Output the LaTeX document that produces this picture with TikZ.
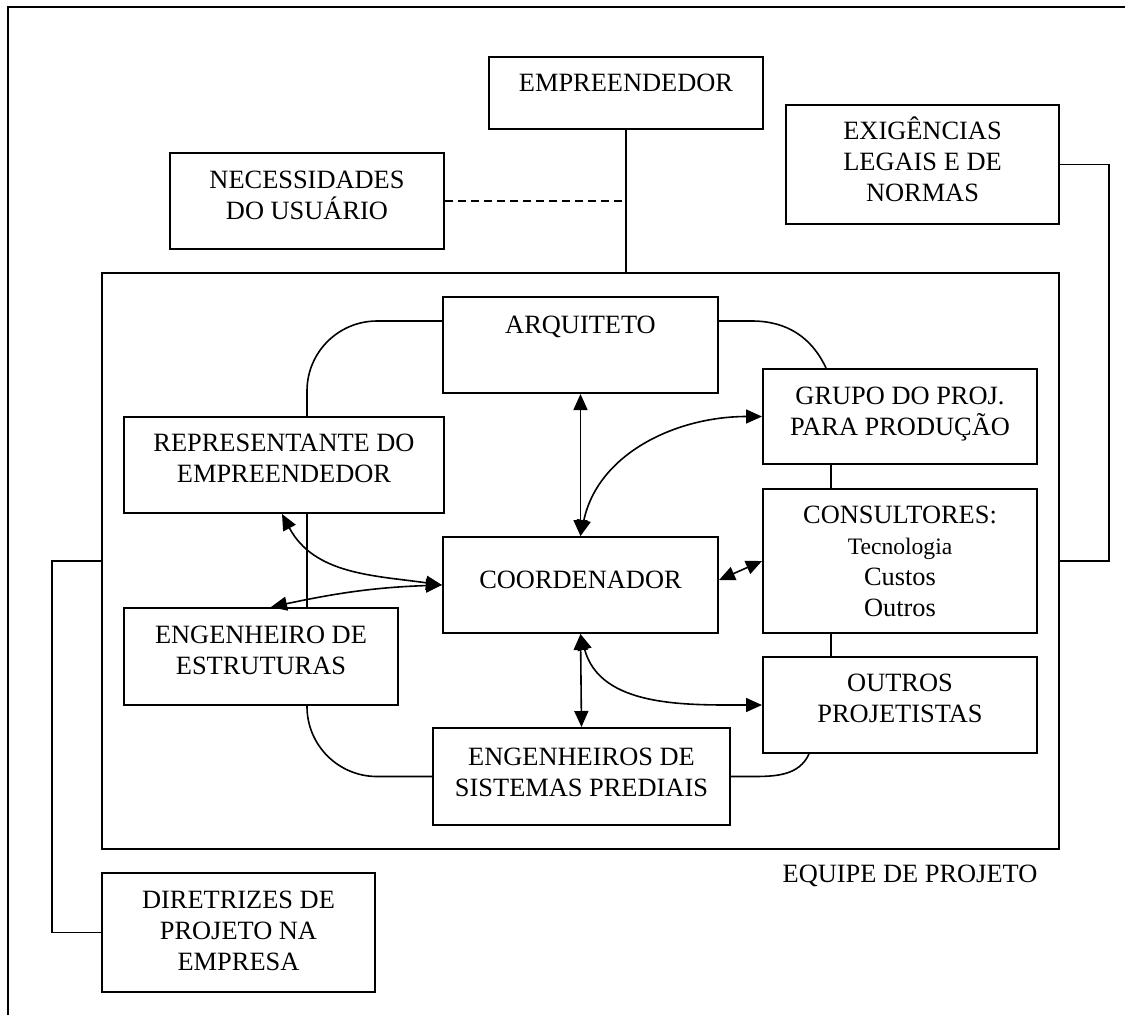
\documentclass[tikz,border=0pt]{standalone}
\usepackage{fontspec}
\setmainfont{Liberation Serif}
\usetikzlibrary{arrows.meta}
\newcommand{\bloco}[4]{\parbox[c][#2][t]{#1}{\centering\rule{0pt}{#3}#4\par}}

\begin{document}
\begin{tikzpicture}[x=0.5pt,y=0.5pt,
   caixa/.style={draw,line width=1pt,inner sep=0pt,anchor=north west,
      font=\fontsize{13.2}{15.5}\selectfont},
   liga/.style={line width=0.8pt},
   >={Triangle[length=8pt,width=7pt]}]
   \useasboundingbox (0,0) rectangle (1125,-1014);
   \draw[line width=0.8pt] (8,-7) rectangle (1200,-1100);

   \node[caixa] (emp) at (488,-56) {\bloco{137pt}{36pt}{17pt}{EMPREENDEDOR}};
   \node[caixa] (nec) at (169,-152) {\bloco{137pt}{48pt}{17.5pt}{NECESSIDADES\\DO USUÁRIO}};
   \node[caixa] (exi) at (785,-104) {\bloco{136.5pt}{59.5pt}{17pt}{EXIGÊNCIAS\\LEGAIS E DE\\NORMAS}};
   \node[caixa,minimum width=478.5pt,minimum height=288pt] (equipe) at (101,-272) {};
   \node[caixa] (arq) at (442,-296) {\bloco{137.5pt}{48pt}{18pt}{ARQUITETO}};
   \node[caixa] (grp) at (762,-368) {\bloco{137pt}{47.5pt}{17.5pt}{GRUPO DO PROJ.\\PARA PRODUÇÃO}};
   \node[caixa] (rep) at (123,-416) {\bloco{160pt}{48pt}{17pt}{REPRESENTANTE DO\\EMPREENDEDOR}};
   \node[caixa] (cons) at (762,-488) {\bloco{137pt}{72pt}{17pt}{CONSULTORES:\\{\fontsize{11.8}{13}\selectfont Tecnologia}\\Custos\\Outros}};
   \node[caixa] (coo) at (442,-536) {\bloco{137.5pt}{48pt}{25.5pt}{COORDENADOR}};
   \node[caixa] (est) at (123,-607) {\bloco{137pt}{48.5pt}{17.5pt}{ENGENHEIRO DE\\ESTRUTURAS}};
   \node[caixa] (out) at (762,-656) {\bloco{137pt}{48pt}{17pt}{OUTROS\\PROJETISTAS}};
   \node[caixa] (sis) at (432,-727) {\bloco{148.5pt}{48.5pt}{18.5pt}{ENGENHEIROS DE\\SISTEMAS PREDIAIS}};
   \node[caixa] (dir) at (101,-872) {\bloco{136.5pt}{59.5pt}{17.5pt}{DIRETRIZES DE\\PROJETO NA\\EMPRESA}};
   \node[font=\fontsize{13.2}{15.5}\selectfont,anchor=base] (rotulo) at (910,-882) {EQUIPE DE PROJETO};

   \draw[liga] (emp.south) -- (emp.south |- equipe.north);
   \coordinate (juncao) at (emp.south |- nec.east);
   \draw[liga,dash pattern=on 4pt off 2.5pt] (nec.east) -- (juncao);
   \draw[liga] (exi.east) -- ++(49,0) |- (equipe.east);
   \draw[liga] (equipe.west) -- ++(-49,0) |- (dir.west);

   \draw[liga,rounded corners=35pt] ([yshift=12pt]arq.west) -| ([xshift=11.5pt]rep.north);
   \draw[liga] ([xshift=11.5pt]rep.south) -- ([xshift=23pt]est.north);
   \draw[liga,rounded corners=35pt] ([xshift=23pt]est.south) |- (sis.west);
   \draw[liga] ([yshift=12pt]arq.east) -- ++(33,0) to[out=0,in=115] ([xshift=-37pt]grp.north);
   \draw[liga] (sis.east) -- ++(21,0) to[out=0,in=-115] ([xshift=-45.5pt]out.south);
   \draw[liga] ([xshift=-34.5pt]grp.south) -- ([xshift=-34.5pt]cons.north);
   \draw[liga] ([xshift=-34.5pt]cons.south) -- ([xshift=-34.5pt]out.north);

   \draw[liga,<->] (arq.south) -- (coo.north);
   \draw[liga,<->] (coo.north) to[out=78,in=180] (grp.west);
   \draw[liga,<->] ([xshift=-1pt]rep.south) to[out=-62,in=172] (coo.west);
   \draw[liga,<->] (coo.west) to[out=182,in=12] ([xshift=5pt]est.north);
   \draw[liga,<->] ([yshift=2.5pt]coo.east) -- (cons.west);
   \draw[liga,<->] (coo.south) -- (sis.north);
   \draw[liga,<->] (coo.south) to[out=-75,in=180] (out.west);
\end{tikzpicture}
\end{document}
